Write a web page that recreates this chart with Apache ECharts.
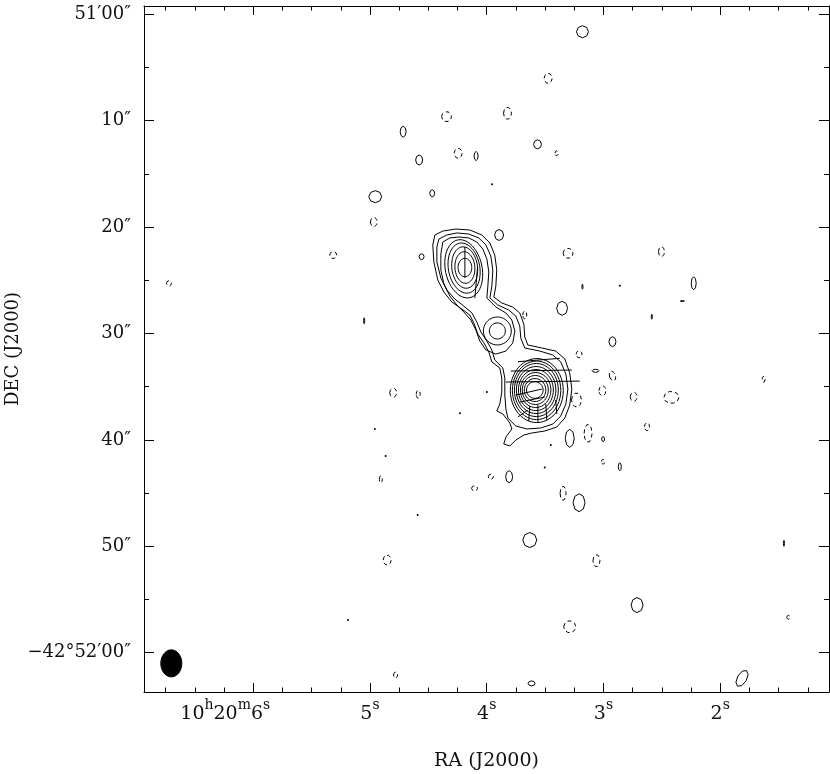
<!DOCTYPE html>
<html>
<head>
<meta charset="utf-8">
<title>RA/DEC contour map</title>
<script src="https://cdn.jsdelivr.net/npm/echarts@6/dist/echarts.min.js"></script>
<style>
  html, body { margin: 0; padding: 0; background: #fff; }
  #chart { width: 830px; height: 774px; }
</style>
</head>
<body>
<div id="chart"></div>
<script>
// x: RA in seconds after 10h20m, y: arcsec south of -42d51m00s
var raMin = 1.068, raMax = 6.936;
var decMin = -0.78, decMax = 63.69;

var raTicks = [2, 3, 4, 5, 6];
var raTickLabels = ['2s', '3s', '4s', '5s', '10h20m6s'];
var raMinorTicks = [1.25, 1.5, 1.75, 2.25, 2.5, 2.75, 3.25, 3.5, 3.75, 4.25, 4.5, 4.75,
  5.25, 5.5, 5.75, 6.25, 6.5, 6.75];
var decTicks = [0, 10, 20, 30, 40, 50, 60];
var decTickLabels = ['51′00″', '10″', '20″', '30″', '40″', '50″', '−42°52′00″'];
var decMinorTicks = [5, 15, 25, 35, 45, 55];

// outer contour levels wrapping the components: [ra, dec]
var envOuter = [
  [4.444, 20.74], [4.376, 20.37], [4.265, 20.18], [4.145, 20.27], [4.042, 20.74], [3.973, 21.49],
  [3.931, 22.63], [3.914, 24.03], [3.922, 25.54], [3.939, 26.57], [3.871, 27.13], [3.777, 27.51],
  [3.717, 28.07], [3.682, 29.11], [3.674, 30.33], [3.648, 31.08], [3.528, 31.36], [3.409, 31.65],
  [3.331, 32.39], [3.289, 33.71], [3.271, 35.22], [3.289, 36.72], [3.331, 37.94], [3.400, 38.79],
  [3.503, 39.16], [3.614, 39.35], [3.682, 39.54], [3.751, 40.01], [3.802, 40.57], [3.854, 40.38],
  [3.836, 39.73], [3.785, 38.97], [3.802, 38.41], [3.862, 37.56], [3.914, 37.28], [3.888, 36.62],
  [3.871, 35.50], [3.871, 34.18], [3.888, 33.24], [3.956, 32.67], [3.982, 31.74], [4.024, 30.89],
  [4.076, 30.05], [4.110, 29.02], [4.145, 28.26], [4.213, 27.70], [4.299, 27.04], [4.367, 26.10],
  [4.419, 24.97], [4.453, 23.28], [4.462, 21.68]
];
var envMiddle = [
  [4.410, 21.12], [4.342, 20.74], [4.256, 20.55], [4.153, 20.65], [4.068, 21.02], [4.007, 21.68],
  [3.965, 22.72], [3.948, 24.03], [3.956, 25.54], [3.973, 26.66], [3.905, 27.32], [3.811, 27.79],
  [3.751, 28.36], [3.717, 29.30], [3.708, 30.45], [3.674, 31.36], [3.545, 31.65], [3.434, 32.02],
  [3.366, 32.67], [3.322, 33.81], [3.305, 35.22], [3.322, 36.62], [3.366, 37.75], [3.434, 38.51],
  [3.537, 38.88], [3.657, 38.97], [3.751, 38.69], [3.819, 37.94], [3.836, 37.09], [3.845, 35.78],
  [3.845, 34.18], [3.862, 33.24], [3.931, 32.49], [3.956, 31.55], [3.999, 30.71], [4.050, 29.86],
  [4.085, 28.92], [4.127, 28.07], [4.196, 27.42], [4.273, 26.76], [4.342, 25.91], [4.393, 24.78],
  [4.427, 23.28], [4.427, 21.87]
];
var envInner = [
  [4.376, 21.40], [4.316, 21.02], [4.239, 20.93], [4.153, 21.02], [4.085, 21.40], [4.033, 22.06],
  [3.999, 22.99], [3.982, 24.22], [3.991, 25.63], [3.999, 26.66], [3.922, 27.51], [3.836, 28.07],
  [3.785, 28.73], [3.759, 29.77], [3.777, 30.89], [3.836, 31.65], [3.922, 31.93], [4.007, 31.55],
  [4.059, 30.71], [4.093, 29.67], [4.136, 28.73], [4.196, 27.98], [4.256, 27.32], [4.316, 26.48],
  [4.367, 25.35], [4.393, 24.03], [4.393, 22.53]
];

// closed rings: [ra, dec, width arcsec, height arcsec, position angle deg]
var northRings = [
  [4.187, 23.80, 1.29, 1.73, 0],
  [4.187, 23.80, 1.88, 2.97, 4],
  [4.189, 23.80, 2.42, 3.91, 7],
  [4.194, 23.85, 2.96, 4.76, 10],
  [4.197, 23.92, 3.46, 5.55, 12]
];
var middleRings = [
  [3.909, 29.76, 1.51, 1.51, 0],
  [3.909, 29.76, 2.63, 2.63, 0]
];
var southRings = [
  [3.588, 35.31, 1.56, 1.56, 0],
  [3.586, 35.31, 2.02, 2.16, 0],
  [3.584, 35.31, 2.45, 2.73, 0],
  [3.581, 35.31, 2.87, 3.29, 0],
  [3.579, 35.31, 3.29, 3.86, 0],
  [3.577, 35.31, 3.72, 4.42, 0],
  [3.575, 35.31, 4.14, 4.99, 0],
  [3.573, 35.34, 4.56, 5.50, 0],
  [3.571, 35.36, 4.99, 6.02, 0]
];
var noisePositive = [
  [3.180, 1.64, 1.13, 1.13, 0], [4.716, 11.03, 0.56, 1.03, 0], [4.579, 13.69, 0.66, 0.94, 0],
  [4.091, 13.32, 0.38, 0.85, 0], [3.565, 12.22, 0.75, 0.85, 0], [4.955, 17.14, 1.22, 1.13, 0],
  [4.467, 16.82, 0.47, 0.66, 0], [4.558, 22.78, 0.47, 0.56, 0], [3.808, 43.46, 0.66, 1.13, 0],
  [3.209, 45.90, 1.13, 1.69, 0], [3.631, 49.41, 1.32, 1.41, 0], [2.712, 55.52, 1.13, 1.41, 0],
  [1.813, 62.41, 0.90, 1.70, -30], [3.616, 62.88, 0.66, 0.47, 0], [2.860, 42.52, 0.28, 0.75, 0],
  [2.227, 25.28, 0.47, 1.22, 0], [2.324, 26.95, 0.38, 0.10, 0], [3.354, 27.63, 1.03, 1.32, 0],
  [2.923, 30.77, 0.66, 0.94, 0], [3.068, 33.50, 0.66, 0.28, 0], [3.289, 39.85, 0.85, 1.69, 0],
  [3.003, 39.92, 0.28, 0.47, 0], [3.894, 20.74, 0.85, 1.03, 0], [1.454, 49.72, 0.10, 0.56, 0],
  [3.180, 25.60, 0.10, 0.47, 0], [2.586, 28.42, 0.10, 0.47, 0], [5.050, 28.80, 0.10, 0.56, 0]
];
var noiseNegative = [
  [3.474, 6.02, 0.75, 0.94, 0], [4.344, 9.62, 0.94, 0.94, 0], [3.822, 9.30, 0.75, 1.13, 0],
  [4.245, 13.06, 0.75, 0.94, 0], [3.402, 13.06, 0.28, 0.47, 0], [4.967, 19.52, 0.66, 0.85, 0],
  [5.315, 22.62, 0.66, 0.66, 0], [6.722, 25.28, 0.47, 0.47, 0], [4.801, 35.56, 0.66, 0.85, 0],
  [4.587, 35.71, 0.38, 0.75, 0], [4.907, 43.70, 0.28, 0.66, 0], [4.104, 44.55, 0.56, 0.47, 0],
  [3.965, 43.46, 0.47, 0.47, 0], [3.346, 45.02, 0.56, 1.32, 0], [4.853, 51.29, 0.75, 0.94, 0],
  [3.060, 51.35, 0.66, 1.13, 0], [3.289, 57.56, 1.13, 1.13, 0], [1.416, 56.67, 0.28, 0.38, 0],
  [4.781, 62.09, 0.38, 0.56, 0], [3.003, 42.05, 0.28, 0.47, 0], [3.303, 22.46, 0.94, 0.94, 0],
  [2.503, 22.31, 0.56, 0.94, 0], [3.209, 31.95, 0.56, 0.66, 0], [2.923, 33.99, 0.56, 0.94, 20],
  [3.009, 35.38, 0.66, 0.94, 0], [3.231, 36.25, 0.94, 1.32, 0], [2.741, 35.94, 0.66, 0.85, 0],
  [2.418, 36.00, 1.41, 1.13, 0], [1.628, 34.30, 0.28, 0.56, 0], [2.627, 38.76, 0.47, 0.75, 0],
  [3.132, 39.38, 0.75, 1.69, 0], [3.674, 28.26, 0.38, 0.75, 0]
];
var noiseDots = [
  [3.954, 15.98], [4.230, 37.50], [4.958, 38.98], [4.866, 41.51], [4.592, 47.06],
  [3.503, 42.58], [5.189, 56.93], [2.860, 25.51], [3.451, 40.48], [3.999, 35.50]
];
// polarisation vectors: [ra1, dec1, ra2, dec2]
var polVectors = [
  [4.187, 21.87, 4.187, 24.78],
  [4.079, 23.85, 4.102, 26.66],
  [3.733, 32.65, 3.374, 32.33],
  [3.794, 33.53, 3.271, 33.43],
  [3.836, 34.56, 3.203, 34.47],
  [3.751, 35.78, 3.528, 35.22],
  [3.717, 36.44, 3.503, 35.97],
  [3.733, 37.85, 3.648, 37.19],
  [3.631, 36.81, 3.640, 38.22],
  [3.562, 36.72, 3.562, 38.32],
  [3.494, 36.62, 3.485, 38.13],
  [3.409, 36.25, 3.400, 37.56]
];
// restoring beam: [ra, dec, width arcsec, height arcsec, pa]
var beam = [[6.702, 61.0, 1.98, 2.54, 0]];

var ARCSEC_PER_RA_SEC = 15 * Math.cos((42 + 51.5 / 60) * Math.PI / 180);
var FONT = 'DejaVu Serif';

function ellipseRenderer(nPts, dashed, filled) {
  return function (params, api) {
    var ra = api.value(0), dec = api.value(1);
    var a = api.value(2) / 2, b = api.value(3) / 2;
    var pa = api.value(4) * Math.PI / 180;
    var pts = [];
    for (var k = 0; k < nPts; k++) {
      var t = k / nPts * 2 * Math.PI;
      var ex = a * Math.cos(t), ny = b * Math.sin(t);
      var east = ex * Math.cos(pa) + ny * Math.sin(pa);
      var north = -ex * Math.sin(pa) + ny * Math.cos(pa);
      pts.push(api.coord([ra + east / ARCSEC_PER_RA_SEC, dec - north]));
    }
    return {
      type: 'polygon',
      shape: { points: pts },
      style: {
        fill: filled ? '#000' : 'none',
        stroke: '#000',
        lineWidth: 1,
        lineDash: dashed ? [4, 3] : null
      }
    };
  };
}

function ringSeries(data, nPts, dashed, filled) {
  return {
    type: 'custom',
    data: data,
    silent: true,
    renderItem: ellipseRenderer(nPts, dashed, filled)
  };
}

function closed(list) {
  return list.concat([list[0]]);
}

function envSeries(list) {
  return {
    type: 'line',
    data: closed(list),
    symbol: 'none',
    silent: true,
    lineStyle: { color: '#000', width: 1 }
  };
}

function raLabel(value) {
  var i = raTicks.indexOf(Math.round(value));
  var s = raTickLabels[i] || '';
  var r = s.replace(/(\d+)/g, '{d|$1}').replace(/([hms])(?![^{]*\|)/g, '{u|$1}');
  if (s.indexOf('h') >= 0) r += '{p| }';
  return r;
}

function decLabel(value) {
  var i = decTicks.indexOf(Math.round(value));
  return decTickLabels[i] || '';
}

function xAxisDef(position, major, withLabels) {
  return {
    type: 'value',
    position: position,
    min: raMin, max: raMax, inverse: true,
    splitLine: { show: false },
    axisLine: { show: major, onZero: false, lineStyle: { color: '#000', width: 1 } },
    axisTick: {
      show: true, inside: true, length: major ? 9 : 4.5,
      customValues: major ? raTicks : raMinorTicks,
      lineStyle: { color: '#000', width: 1 }
    },
    axisLabel: {
      show: withLabels,
      customValues: raTicks,
      margin: 6,
      formatter: raLabel,
      rich: {
        d: { fontFamily: FONT, fontSize: 19, color: '#111', lineHeight: 26, verticalAlign: 'bottom' },
        u: { fontFamily: FONT, fontSize: 14, color: '#111', lineHeight: 26, verticalAlign: 'top' },
        p: { fontSize: 12, width: 56 }
      }
    },
    name: withLabels ? 'RA (J2000)' : '',
    nameLocation: 'middle',
    nameGap: 60,
    nameMoveOverlap: false,
    nameTextStyle: { fontFamily: FONT, fontSize: 19, color: '#111' }
  };
}

function yAxisDef(position, major, withLabels) {
  return {
    type: 'value',
    position: position,
    min: decMin, max: decMax, inverse: true,
    splitLine: { show: false },
    axisLine: { show: major, onZero: false, lineStyle: { color: '#000', width: 1 } },
    axisTick: {
      show: true, inside: true, length: major ? 10 : 5,
      customValues: major ? decTicks : decMinorTicks,
      lineStyle: { color: '#000', width: 1 }
    },
    axisLabel: {
      show: withLabels,
      customValues: decTicks,
      margin: 13,
      formatter: decLabel,
      fontFamily: FONT, fontSize: 18, color: '#111'
    },
    name: withLabels ? 'DEC (J2000)' : '',
    nameLocation: 'middle',
    nameGap: 122,
    nameMoveOverlap: false,
    nameTextStyle: { fontFamily: FONT, fontSize: 18, color: '#111' }
  };
}

var chart = echarts.init(document.getElementById('chart'), null, { renderer: 'canvas' });

var option = {
  animation: false,
  backgroundColor: '#fff',
  grid: { left: 144, top: 6, right: 1, bottom: 82, containLabel: false, outerBoundsMode: 'none' },
  xAxis: [
    xAxisDef('bottom', true, true),
    xAxisDef('bottom', false, false),
    xAxisDef('top', true, false),
    xAxisDef('top', false, false)
  ],
  yAxis: [
    yAxisDef('left', true, true),
    yAxisDef('left', false, false),
    yAxisDef('right', true, false),
    yAxisDef('right', false, false)
  ],
  series: [
    envSeries(envOuter),
    envSeries(envMiddle),
    envSeries(envInner),
    ringSeries(northRings, 48, false, false),
    ringSeries(middleRings, 40, false, false),
    ringSeries(southRings, 48, false, false),
    ringSeries(noisePositive, 8, false, false),
    ringSeries(noiseNegative, 10, true, false),
    {
      type: 'custom',
      data: noiseDots,
      silent: true,
      renderItem: function (params, api) {
        var p = api.coord([api.value(0), api.value(1)]);
        return { type: 'circle', shape: { cx: p[0], cy: p[1], r: 1 }, style: { fill: '#000' } };
      }
    },
    {
      type: 'custom',
      data: polVectors,
      silent: true,
      renderItem: function (params, api) {
        var p1 = api.coord([api.value(0), api.value(1)]);
        var p2 = api.coord([api.value(2), api.value(3)]);
        return {
          type: 'line',
          shape: { x1: p1[0], y1: p1[1], x2: p2[0], y2: p2[1] },
          style: { stroke: '#000', lineWidth: 1 }
        };
      }
    },
    ringSeries(beam, 40, false, true)
  ]
};

chart.setOption(option);
</script>
</body>
</html>
